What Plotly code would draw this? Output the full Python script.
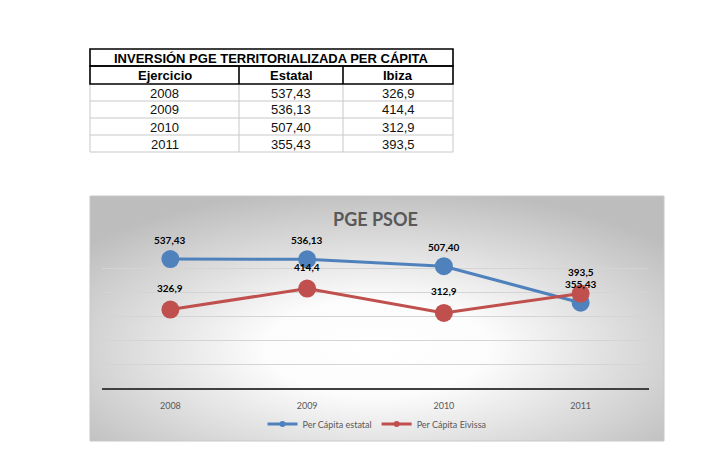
import base64
import plotly.graph_objects as go

# ---------------- data ----------------
years = ["2008", "2009", "2010", "2011"]
estatal = [537.43, 536.13, 507.40, 355.43]
eivissa = [326.9, 414.4, 312.9, 393.5]
series_names = ["Per Cápita estatal", "Per Cápita Eivissa"]
table_title = "INVERSIÓN PGE TERRITORIALIZADA PER CÁPITA"
table_headers = ["Ejercicio", "Estatal", "Ibiza"]
chart_title = "PGE PSOE"

# page has an 8px body margin, so the figure is drawn inside it
OFF = 8
W, H = 727 - 2 * OFF, 464 - 2 * OFF


def px_x(v):
    return (v - OFF) / W


def px_y(v):
    return (H - (v - OFF)) / H


def fmt2(v):
    return f"{v:.2f}".replace(".", ",")


def fmt1(v):
    return f"{v:g}".replace(".", ",")


est_lbl = [fmt2(v) for v in estatal]
eiv_lbl = [fmt1(v) for v in eivissa]

BLUE = "#4F81BD"
RED = "#C0504D"
CHART_FONT = "Lato, 'Open Sans', sans-serif"
TABLE_FONT = "'Liberation Sans', Arial, sans-serif"

fig = go.Figure()

# ---------------- chart traces ----------------
for vals, name, col in ((estatal, series_names[0], BLUE), (eivissa, series_names[1], RED)):
    fig.add_trace(go.Scatter(
        x=years, y=vals, name=name, mode="lines+markers", showlegend=False,
        line=dict(color=col, width=3), marker=dict(color=col, size=18),
    ))
# legend entries (small symbols like the original legend)
for name, col in ((series_names[0], BLUE), (series_names[1], RED)):
    fig.add_trace(go.Scatter(
        x=[None], y=[None], name=name, mode="lines+markers",
        line=dict(color=col, width=3), marker=dict(color=col, size=6),
    ))

annotations = []
shapes = []
for vals, lbls, shift in ((estatal, est_lbl, 19), (eivissa, eiv_lbl, 21.5)):
    for i, (v, t) in enumerate(zip(vals, lbls)):
        annotations.append(dict(x=i, y=v, xref="x", yref="y", text=f"<b>{t}</b>",
                                showarrow=False, yshift=shift,
                                xanchor="center", yanchor="middle",
                                font=dict(family=CHART_FONT, size=10, color="black")))

# chart title
annotations.append(dict(x=px_x(375), y=px_y(219), xref="paper", yref="paper",
                        text=f"<b>{chart_title}</b>", showarrow=False,
                        xanchor="center", yanchor="middle",
                        font=dict(family=CHART_FONT, size=18, color="#595959")))

# ---------------- table (built from the lists) ----------------
tx0, tx1 = 90, 453
col_edges = [90, 239, 343, 453]
title_top, header_top, header_bot = 49, 66, 84
row_h = 17
n_rows = len(years)
table_bottom = header_bot + n_rows * row_h


def cell_text(xc, yc, text, bold=False, color="black"):
    return dict(x=px_x(xc), y=px_y(yc), xref="paper", yref="paper",
                text=f"<b>{text}</b>" if bold else text, showarrow=False,
                xanchor="center", yanchor="middle",
                font=dict(family=TABLE_FONT, size=13, color=color))


annotations.append(cell_text((tx0 + tx1) / 2, (title_top + header_top) / 2 + 0.5,
                             table_title, bold=True))
for c, h in enumerate(table_headers):
    annotations.append(cell_text((col_edges[c] + col_edges[c + 1]) / 2,
                                 (header_top + header_bot) / 2 + 0.5, h, bold=True))
columns = [years, est_lbl, eiv_lbl]
for c, colvals in enumerate(columns):
    for r, val in enumerate(colvals):
        annotations.append(cell_text((col_edges[c] + col_edges[c + 1]) / 2,
                                     header_bot + r * row_h + row_h / 2 + 0.5,
                                     val, color="#111111"))

GRAY = "#c8c8c8"
for r in range(1, n_rows + 1):
    yy = header_bot + r * row_h
    shapes.append(dict(type="line", xref="paper", yref="paper",
                       x0=px_x(tx0), x1=px_x(tx1), y0=px_y(yy), y1=px_y(yy),
                       line=dict(color=GRAY, width=1)))
for xe in col_edges:
    shapes.append(dict(type="line", xref="paper", yref="paper",
                       x0=px_x(xe), x1=px_x(xe), y0=px_y(header_bot), y1=px_y(table_bottom),
                       line=dict(color=GRAY, width=1)))
shapes.append(dict(type="rect", xref="paper", yref="paper",
                   x0=px_x(tx0), x1=px_x(tx1), y0=px_y(header_top), y1=px_y(title_top),
                   line=dict(color="black", width=1.6)))
shapes.append(dict(type="rect", xref="paper", yref="paper",
                   x0=px_x(tx0), x1=px_x(tx1), y0=px_y(header_bot), y1=px_y(header_top),
                   line=dict(color="black", width=1.6)))
for xe in col_edges[1:-1]:
    shapes.append(dict(type="line", xref="paper", yref="paper",
                       x0=px_x(xe), x1=px_x(xe), y0=px_y(header_bot), y1=px_y(header_top),
                       line=dict(color="black", width=1.6)))

# chart border
shapes.append(dict(type="rect", xref="paper", yref="paper",
                   x0=px_x(90), x1=px_x(664), y0=px_y(441), y1=px_y(196),
                   line=dict(color="#c8c8c8", width=1), layer="below"))

svg = (
    '<svg xmlns="http://www.w3.org/2000/svg" width="574" height="245" viewBox="0 0 574 245" preserveAspectRatio="none">'
    '<defs><radialGradient id="g" cx="50%" cy="62%" r="66%" fx="50%" fy="62%">'
    '<stop offset="0" stop-color="#ffffff"/>'
    '<stop offset="0.3" stop-color="#fcfcfc"/>'
    '<stop offset="1" stop-color="#bdbdbd"/>'
    '</radialGradient></defs>'
    '<rect width="574" height="245" fill="url(#g)"/></svg>'
)
src = "data:image/svg+xml;base64," + base64.b64encode(svg.encode()).decode()

fig.update_layout(
    width=W, height=H, autosize=False,
    margin=dict(l=0, r=0, t=0, b=0),
    paper_bgcolor="white", plot_bgcolor="rgba(0,0,0,0)",
    showlegend=True,
    legend=dict(orientation="h", x=px_x(377), xanchor="center",
                y=px_y(424), yanchor="middle",
                font=dict(family=CHART_FONT, size=9, color="#595959"),
                bgcolor="rgba(0,0,0,0)", itemwidth=30, tracegroupgap=0),
    xaxis=dict(domain=[px_x(102), px_x(649)], type="category",
               range=[-0.5, 3.5], showgrid=False, zeroline=False,
               showline=True, linecolor="#404040", linewidth=1.5,
               ticks="", ticklabelstandoff=8,
               tickfont=dict(family=CHART_FONT, size=9, color="#595959")),
    yaxis=dict(domain=[px_y(388), px_y(244)], range=[0, 600],
               tickvals=[100, 200, 300, 400, 500],
               showticklabels=False, showgrid=True, gridcolor="#d4d4d4",
               gridwidth=1, zeroline=False, showline=False),
    annotations=annotations,
    shapes=shapes,
    images=[dict(source=src, xref="paper", yref="paper",
                 x=px_x(90), y=px_y(196), sizex=574 / W, sizey=245 / H,
                 xanchor="left", yanchor="top", sizing="stretch", layer="below")],
)

fig.write_html("out.html")
